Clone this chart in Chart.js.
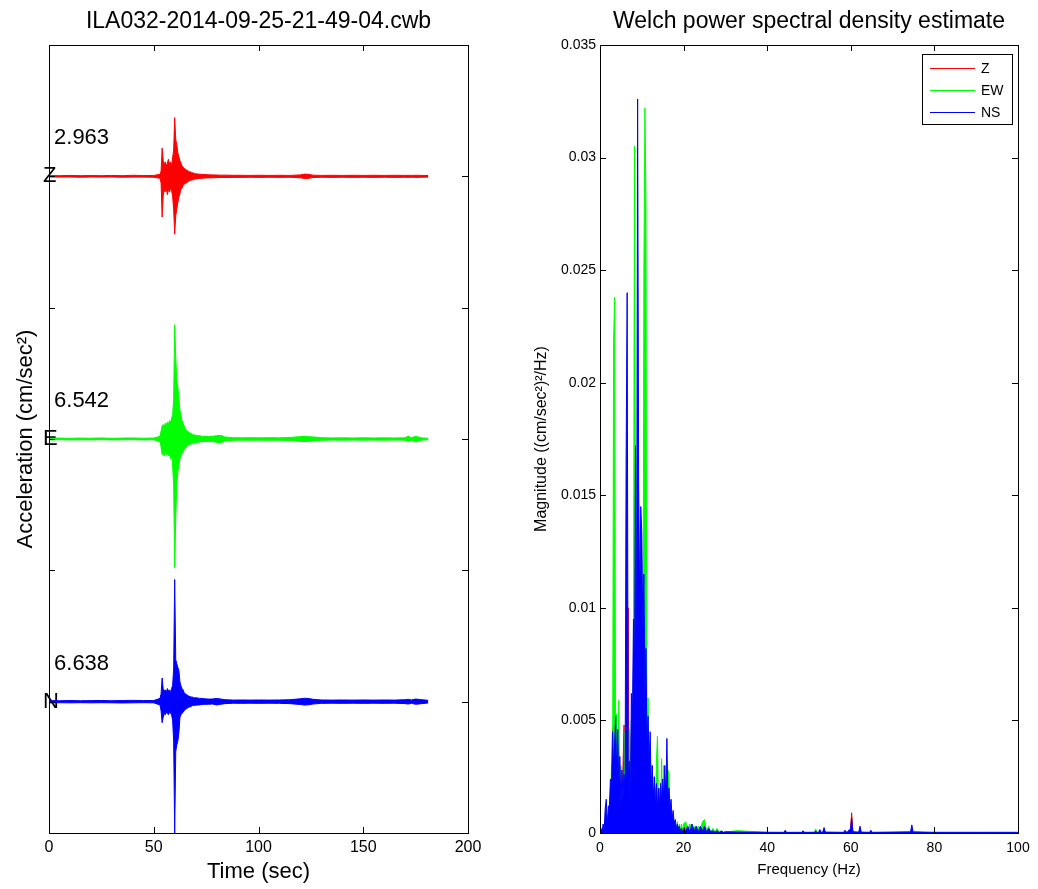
<!DOCTYPE html>
<html>
<head>
<meta charset="utf-8">
<script src="https://cdn.jsdelivr.net/npm/chart.js@4.4.1/dist/chart.umd.min.js"></script>
<style>
  html, body { margin: 0; padding: 0; background: #fff; }
  #wrap { position: relative; width: 1038px; height: 889px; }
  #wrap canvas { position: absolute; top: 0; }
  #seis { left: 0; }
  #psd { left: 519px; }
</style>
</head>
<body>
<div id="wrap">
  <canvas id="seis" width="519" height="889"></canvas>
  <canvas id="psd" width="519" height="889"></canvas>
</div>
<script>
// ---- left panel: three acceleration traces, each around its own baseline
var traceNames = ['Z', 'E', 'N'];
var traceOffsets = [5, 3, 1];
var traceColors = ['#ff0000', '#00ff00', '#0000ff'];
var peakLabels = ['2.963', '6.542', '6.638'];
var timeTickLabels = ['0', '50', '100', '150', '200'];

// sample times (sec); each trace gives the upper / lower swing at that time
var traceTimes = [0, 5, 10, 15, 20, 25, 30, 35, 40, 45, 50, 53,
  53.5, 54, 54.5, 55, 55.5, 56, 56.5, 57, 57.5, 58, 58.5, 59, 59.5, 60, 60.5, 61, 61.5, 62,
  62.5, 63, 63.5, 64, 64.5, 65, 65.5, 66, 66.5, 67, 67.5, 68, 68.5, 69, 69.5, 70,
  71, 72, 73, 74, 76, 78, 80, 82, 84, 88, 92, 96, 100, 105, 110, 115, 120, 122, 124, 126,
  130, 135, 140, 145, 150, 155, 160, 165, 170, 171.5, 173, 175, 178, 181];

var zUpper = [0.006, 0.005, 0.007, 0.005, 0.006, 0.005, 0.007, 0.005, 0.008, 0.006, 0.007, 0.015,
  0.04, 0.215, 0.12, 0.09, 0.11, 0.08, 0.10, 0.13, 0.09, 0.11, 0.08, 0.14, 0.20, 0.447, 0.28, 0.24, 0.18, 0.15,
  0.12, 0.10, 0.08, 0.07, 0.06, 0.055, 0.05, 0.045, 0.04, 0.035, 0.035, 0.03, 0.028, 0.025, 0.022, 0.02,
  0.018, 0.016, 0.015, 0.014, 0.012, 0.011, 0.01, 0.009, 0.009, 0.008, 0.008, 0.007, 0.008, 0.007, 0.008, 0.007, 0.011, 0.017, 0.015, 0.009,
  0.007, 0.008, 0.007, 0.008, 0.007, 0.008, 0.007, 0.008, 0.007, 0.008, 0.007, 0.008, 0.007, 0.006];
var zLower = [-0.005, -0.006, -0.005, -0.007, -0.005, -0.006, -0.005, -0.007, -0.006, -0.006, -0.007, -0.015,
  -0.05, -0.31, -0.15, -0.10, -0.12, -0.09, -0.14, -0.10, -0.12, -0.09, -0.11, -0.15, -0.25, -0.44, -0.30, -0.25, -0.20, -0.16,
  -0.13, -0.10, -0.09, -0.07, -0.06, -0.055, -0.05, -0.045, -0.04, -0.035, -0.03, -0.03, -0.028, -0.025, -0.022, -0.02,
  -0.018, -0.016, -0.015, -0.013, -0.012, -0.011, -0.01, -0.009, -0.009, -0.008, -0.008, -0.007, -0.008, -0.007, -0.008, -0.007, -0.011, -0.017, -0.015, -0.009,
  -0.007, -0.008, -0.007, -0.008, -0.007, -0.008, -0.007, -0.008, -0.007, -0.008, -0.007, -0.008, -0.007, -0.006];

var eUpper = [0.006, 0.007, 0.005, 0.007, 0.006, 0.008, 0.005, 0.007, 0.008, 0.006, 0.007, 0.02,
  0.06, 0.10, 0.11, 0.09, 0.12, 0.10, 0.13, 0.11, 0.14, 0.12, 0.16, 0.18, 0.30, 0.87, 0.62, 0.45, 0.40, 0.30,
  0.22, 0.18, 0.14, 0.12, 0.10, 0.08, 0.07, 0.06, 0.055, 0.05, 0.045, 0.04, 0.035, 0.035, 0.03, 0.03,
  0.025, 0.025, 0.02, 0.02, 0.018, 0.02, 0.025, 0.028, 0.015, 0.01, 0.009, 0.01, 0.009, 0.01, 0.009, 0.012, 0.018, 0.02, 0.018, 0.016,
  0.01, 0.008, 0.009, 0.008, 0.009, 0.008, 0.009, 0.008, 0.009, 0.022, 0.009, 0.02, 0.008, 0.006];
var eLower = [-0.007, -0.005, -0.007, -0.006, -0.007, -0.005, -0.007, -0.006, -0.005, -0.007, -0.006, -0.02,
  -0.06, -0.12, -0.10, -0.13, -0.09, -0.12, -0.10, -0.13, -0.11, -0.15, -0.12, -0.20, -0.35, -0.98, -0.60, -0.35, -0.25, -0.20,
  -0.15, -0.13, -0.11, -0.10, -0.08, -0.07, -0.06, -0.05, -0.045, -0.045, -0.04, -0.035, -0.035, -0.03, -0.03, -0.028,
  -0.025, -0.022, -0.02, -0.02, -0.018, -0.02, -0.025, -0.028, -0.015, -0.01, -0.009, -0.01, -0.009, -0.01, -0.009, -0.012, -0.018, -0.02, -0.018, -0.016,
  -0.01, -0.008, -0.009, -0.008, -0.009, -0.008, -0.009, -0.008, -0.009, -0.018, -0.009, -0.022, -0.008, -0.006];

var nUpper = [0.008, 0.007, 0.009, 0.007, 0.008, 0.009, 0.007, 0.009, 0.01, 0.008, 0.009, 0.025,
  0.06, 0.18, 0.10, 0.08, 0.09, 0.07, 0.10, 0.08, 0.09, 0.07, 0.10, 0.12, 0.25, 0.93, 0.32, 0.29, 0.26, 0.24,
  0.15, 0.12, 0.10, 0.09, 0.07, 0.06, 0.055, 0.05, 0.045, 0.04, 0.04, 0.035, 0.035, 0.03, 0.03, 0.03,
  0.028, 0.025, 0.025, 0.022, 0.02, 0.02, 0.025, 0.02, 0.015, 0.012, 0.013, 0.012, 0.013, 0.012, 0.013, 0.015, 0.022, 0.026, 0.024, 0.018,
  0.013, 0.012, 0.013, 0.012, 0.013, 0.012, 0.013, 0.012, 0.015, 0.018, 0.013, 0.02, 0.015, 0.01];
var nLower = [-0.009, -0.008, -0.009, -0.008, -0.009, -0.008, -0.009, -0.01, -0.009, -0.008, -0.009, -0.025,
  -0.07, -0.16, -0.12, -0.09, -0.10, -0.08, -0.09, -0.10, -0.08, -0.09, -0.10, -0.14, -0.30, -1.0, -0.38, -0.33, -0.30, -0.24,
  -0.12, -0.10, -0.09, -0.08, -0.07, -0.06, -0.055, -0.05, -0.045, -0.04, -0.04, -0.035, -0.03, -0.03, -0.03, -0.028,
  -0.025, -0.025, -0.022, -0.02, -0.02, -0.018, -0.025, -0.02, -0.015, -0.012, -0.013, -0.012, -0.013, -0.012, -0.013, -0.015, -0.022, -0.026, -0.024, -0.018,
  -0.013, -0.012, -0.013, -0.012, -0.013, -0.012, -0.013, -0.012, -0.015, -0.018, -0.013, -0.02, -0.015, -0.01];

// ---- right panel: Welch PSD of the three components
var psdLabels = ['Z', 'EW', 'NS'];
var psdColors = ['#ff0000', '#00ff00', '#0000ff'];
var freqTickLabels = ['0', '20', '40', '60', '80', '100'];
var psdTickLabels = ['0', '0.005', '0.01', '0.015', '0.02', '0.025', '0.03', '0.035'];

var freqHz = [
  0, 0.25, 0.5, 0.75, 1, 1.25, 1.5, 1.75, 2, 2.25, 2.5, 2.75, 3, 3.25, 3.5, 3.75, 4, 4.25, 4.5, 4.75,
  5, 5.25, 5.5, 5.75, 6, 6.25, 6.5, 6.75, 7, 7.25, 7.5, 7.75, 8, 8.25, 8.5, 8.75, 9, 9.25, 9.5, 9.75,
  10, 10.25, 10.5, 10.75, 11, 11.25, 11.5, 11.75, 12, 12.25, 12.5, 12.75, 13, 13.25, 13.5, 13.75, 14, 14.25, 14.5, 14.75,
  15, 15.25, 15.5, 15.75, 16, 16.25, 16.5, 16.75, 17, 17.25, 17.5, 17.75, 18, 18.25, 18.5, 18.75, 19, 19.25, 19.5, 19.75,
  20, 20.5, 21, 21.5, 22, 22.5, 23, 23.5, 24, 24.5, 25, 25.5, 26, 26.5, 27, 27.5, 28, 28.5, 29, 29.5, 30,
  33, 40, 44, 44.3, 44.6, 48.3, 48.6, 48.9, 51.3, 51.6, 51.9, 52.3, 52.6, 52.9, 53.3, 53.6, 53.9,
  58.3, 58.6, 58.9, 59.3, 59.6, 59.9, 60.2, 60.5, 61.9, 62.2, 62.5, 64.5, 64.8, 65.1, 74.3, 74.6, 74.9, 80, 90, 100];

var psdZ = [
  0, 0.00005, 0.0001, 0.00003, 0.0002, 0.00005, 0.0004, 0.0001, 0.0005, 0.0001, 0.0012, 0.0002, 0.0047, 0.0003, 0.0015, 0.0002, 0.0008, 0.0001, 0.0006, 0.0001,
  0.0010, 0.0002, 0.0030, 0.0048, 0.0002, 0.0035, 0.0003, 0.0100, 0.0002, 0.0025, 0.0044, 0.0003, 0.0020, 0.0004, 0.0050, 0.0066, 0.0003, 0.0045, 0.0004, 0.0035,
  0.0003, 0.0030, 0.0004, 0.0043, 0.0002, 0.0015, 0.0003, 0.0012, 0.0002, 0.0010, 0.0001, 0.0012, 0.0002, 0.0020, 0.0001, 0.0006, 0.0001, 0.0005, 0.00005, 0.0004,
  0.00005, 0.0004, 0.00005, 0.0002, 0.00005, 0.0003, 0.00005, 0.0002, 0.00003, 0.0001, 0.00003, 0.0001, 0.00003, 0.0001, 0.00002, 0.0001, 0.00002, 0.00005, 0.00002, 0.00005,
  0.00002, 0.00002, 0.00006, 0.00002, 0.00005, 0.00002, 0.00004, 0.00002, 0.00004, 0.00002, 0.00003, 0.00002, 0.00003, 0.00002, 0.00002, 0.00002, 0.00002, 0.00002, 0.00002, 0.00002, 0.00002,
  0.00002, 0.00002, 0.00002, 0.00002, 0.00002, 0.00002, 0.00002, 0.00002, 0.00002, 0.00002, 0.00002, 0.00002, 0.00002, 0.00002, 0.00002, 0.00002, 0.00002,
  0.00002, 0.00002, 0.00002, 0.00002, 0.00002, 0.00005, 0.0009, 0.00004, 0.00002, 0.00002, 0.00002, 0.00002, 0.00002, 0.00002, 0.00002, 0.00008, 0.00002, 0.00002, 0.00002, 0.00002];

var psdEW = [
  0.00001, 0.0001, 0.00003, 0.0002, 0.00005, 0.0006, 0.0001, 0.0008, 0.0002, 0.0010, 0.0003, 0.0031, 0.0005, 0.0218, 0.0238, 0.0010, 0.0053, 0.0008, 0.0059, 0.0006,
  0.0030, 0.0004, 0.0020, 0.0003, 0.0045, 0.0005, 0.0030, 0.0004, 0.0046, 0.0003, 0.0050, 0.0005, 0.0070, 0.0305, 0.0136, 0.0008, 0.0090, 0.0012, 0.0100, 0.0010,
  0.0090, 0.0015, 0.0249, 0.0322, 0.0278, 0.0012, 0.0060, 0.0008, 0.0040, 0.0006, 0.0030, 0.0004, 0.0022, 0.0005, 0.0032, 0.0043, 0.0006, 0.0020, 0.0005, 0.0033,
  0.0006, 0.0030, 0.0004, 0.0018, 0.0005, 0.0028, 0.0026, 0.0004, 0.0010, 0.0003, 0.0006, 0.0002, 0.0004, 0.0001, 0.0005, 0.0001, 0.0004, 0.0001, 0.0004, 0.0001,
  0.0004, 0.0005, 0.0001, 0.0004, 0.0001, 0.0003, 0.00005, 0.0003, 0.0001, 0.0005, 0.0006, 0.0001, 0.0003, 0.00005, 0.0002, 0.00005, 0.0002, 0.00003, 0.0001, 0.00003, 0.00005,
  0.0001, 0.00003, 0.00002, 0.00004, 0.00002, 0.00002, 0.00004, 0.00002, 0.00003, 0.00018, 0.00003, 0.00002, 0.00005, 0.00002, 0.00002, 0.00006, 0.00002,
  0.00002, 0.00004, 0.00002, 0.00002, 0.00005, 0.00003, 0.0002, 0.00002, 0.00002, 0.00008, 0.00002, 0.00002, 0.00004, 0.00002, 0.00002, 0.0001, 0.00002, 0.00002, 0.00002, 0.00002];

var psdNS = [
  0.00002, 0.0002, 0.00005, 0.0004, 0.0001, 0.0011, 0.0015, 0.0003, 0.0012, 0.0012, 0.0024, 0.0020, 0.0045, 0.0030, 0.0040, 0.0052, 0.0025, 0.0046, 0.0020, 0.0034,
  0.0012, 0.0028, 0.0015, 0.0026, 0.0020, 0.0168, 0.0240, 0.0020, 0.0032, 0.0010, 0.0062, 0.0050, 0.0095, 0.0070, 0.0172, 0.0090, 0.0326, 0.0156, 0.0100, 0.0145,
  0.0133, 0.0090, 0.0115, 0.0060, 0.0082, 0.0040, 0.0052, 0.0030, 0.0045, 0.0020, 0.0030, 0.0015, 0.0025, 0.0012, 0.0022, 0.0010, 0.0020, 0.0012, 0.0022, 0.0014,
  0.0024, 0.0015, 0.0030, 0.0016, 0.0042, 0.0014, 0.0020, 0.0010, 0.0015, 0.0006, 0.0010, 0.0004, 0.0006, 0.0002, 0.0004, 0.0002, 0.0003, 0.0001, 0.0002, 0.00005,
  0.0002, 0.0001, 0.0003, 0.00005, 0.0004, 0.0001, 0.0003, 0.00005, 0.0003, 0.0001, 0.0003, 0.00005, 0.0002, 0.00005, 0.0001, 0.00003, 0.0001, 0.00003, 0.00008, 0.00003, 0.00005,
  0.00004, 0.00003, 0.00003, 0.00012, 0.00003, 0.00003, 0.0001, 0.00003, 0.00003, 0.00008, 0.00003, 0.00003, 0.00015, 0.00003, 0.00004, 0.00024, 0.00004,
  0.00003, 0.00012, 0.00004, 0.00005, 0.00015, 0.0001, 0.00067, 0.00005, 0.00004, 0.0003, 0.00004, 0.00003, 0.00012, 0.00003, 0.00005, 0.00036, 0.00005, 0.00003, 0.00003, 0.00003];

var FONT = '"Liberation Sans", Arial, Helvetica, sans-serif';
Chart.defaults.font.family = FONT;
Chart.defaults.color = '#000';

// MATLAB style box with inward ticks on all four sides
var matlabAxes = {
  id: 'matlabAxes',
  afterDatasetsDraw: function (chart) {
    var ctx = chart.ctx, a = chart.chartArea;
    var xs = chart.scales.x, ys = chart.scales.y, len = 6;
    ctx.save();
    ctx.strokeStyle = '#000';
    ctx.lineWidth = 1;
    ctx.beginPath();
    xs.ticks.forEach(function (t) {
      var px = Math.round(xs.getPixelForValue(t.value)) + 0.5;
      ctx.moveTo(px, a.bottom); ctx.lineTo(px, a.bottom - len);
      ctx.moveTo(px, a.top); ctx.lineTo(px, a.top + len);
    });
    ys.ticks.forEach(function (t) {
      var py = Math.round(ys.getPixelForValue(t.value)) + 0.5;
      ctx.moveTo(a.left, py); ctx.lineTo(a.left + len, py);
      ctx.moveTo(a.right, py); ctx.lineTo(a.right - len, py);
    });
    ctx.stroke();
    ctx.strokeRect(Math.round(a.left) + 0.5, Math.round(a.top) + 0.5,
      Math.round(a.right - a.left), Math.round(a.bottom - a.top));
    ctx.restore();
  }
};

var peakText = {
  id: 'peakText',
  afterDatasetsDraw: function (chart) {
    var ctx = chart.ctx, xs = chart.scales.x, ys = chart.scales.y;
    ctx.save();
    ctx.font = '22px ' + FONT;
    ctx.fillStyle = '#000';
    ctx.textAlign = 'left';
    ctx.textBaseline = 'middle';
    peakLabels.forEach(function (txt, i) {
      ctx.fillText(txt, xs.getPixelForValue(2.4), ys.getPixelForValue(traceOffsets[i] + 0.29));
    });
    ctx.restore();
  }
};

var boxLegend = {
  id: 'boxLegend',
  afterDraw: function (chart) {
    var ctx = chart.ctx, a = chart.chartArea;
    var w = 90, h = 70;
    var x0 = Math.round(a.right - 6 - w), y0 = Math.round(a.top + 9);
    ctx.save();
    ctx.fillStyle = '#fff';
    ctx.fillRect(x0, y0, w, h);
    ctx.strokeStyle = '#000';
    ctx.lineWidth = 1;
    ctx.strokeRect(x0 + 0.5, y0 + 0.5, w, h);
    ctx.font = '14px ' + FONT;
    ctx.textBaseline = 'middle';
    ctx.textAlign = 'left';
    chart.data.datasets.forEach(function (ds, i) {
      var y = y0 + 14 + i * 22 + 0.5;
      ctx.strokeStyle = ds.borderColor;
      ctx.beginPath();
      ctx.moveTo(x0 + 8, y);
      ctx.lineTo(x0 + 53, y);
      ctx.stroke();
      ctx.fillStyle = '#000';
      ctx.fillText(ds.label, x0 + 59, y + 1);
    });
    ctx.restore();
  }
};

function shifted(values, offset) {
  return traceTimes.map(function (t, k) { return { x: t, y: offset + values[k] }; });
}

var traceUpper = [zUpper, eUpper, nUpper];
var traceLower = [zLower, eLower, nLower];
var traceSets = [];
traceNames.forEach(function (name, i) {
  // upper swing, filled down to the lower swing drawn right after it
  traceSets.push({
    label: name,
    data: shifted(traceUpper[i], traceOffsets[i]),
    borderColor: traceColors[i],
    backgroundColor: traceColors[i],
    fill: '+1'
  });
  traceSets.push({
    label: name + ' low',
    data: shifted(traceLower[i], traceOffsets[i]),
    borderColor: traceColors[i],
    fill: false
  });
});

new Chart(document.getElementById('seis'), {
  type: 'line',
  data: { datasets: traceSets },
  options: {
    responsive: false,
    animation: false,
    events: [],
    elements: {
      point: { radius: 0 },
      line: { borderWidth: 1, tension: 0, borderJoinStyle: 'bevel' }
    },
    layout: { padding: { left: 0, right: 51, top: 0, bottom: 0 } },
    plugins: {
      legend: { display: false },
      tooltip: { enabled: false },
      title: {
        display: true,
        fullSize: false,
        text: 'ILA032-2014-09-25-21-49-04.cwb',
        color: '#000',
        font: { size: 23, weight: 'normal' },
        padding: { top: 8, bottom: 9.4 }
      }
    },
    scales: {
      x: {
        type: 'linear', min: 0, max: 200,
        grid: { display: false, drawTicks: false },
        border: { display: false },
        ticks: {
          stepSize: 50, padding: 5, maxRotation: 0, autoSkip: false,
          color: '#000', font: { size: 16 },
          callback: function (v, i) { return timeTickLabels[i]; }
        },
        title: { display: true, text: 'Time (sec)', color: '#000', font: { size: 22 }, padding: { top: 0, bottom: 4 } },
        afterFit: function (s) { s.height = 56; }
      },
      y: {
        type: 'linear', min: 0, max: 6,
        grid: { display: false, drawTicks: false },
        border: { display: false },
        ticks: {
          stepSize: 1, mirror: true, padding: -6, autoSkip: false,
          color: '#000', font: { size: 22 },
          callback: function (v) {
            var k = traceOffsets.indexOf(v);
            return k >= 0 ? traceNames[k] : '';
          }
        },
        title: { display: true, text: 'Acceleration (cm/sec²)', color: '#000', font: { size: 22 }, padding: { top: 13, bottom: 0 } },
        afterFit: function (s) { s.width = 49; }
      }
    }
  },
  plugins: [matlabAxes, peakText]
});

var psdSeries = [psdZ, psdEW, psdNS];

new Chart(document.getElementById('psd'), {
  type: 'line',
  data: {
    datasets: psdLabels.map(function (name, i) {
      return {
        label: name,
        data: freqHz.map(function (f, k) { return { x: f, y: psdSeries[i][k] }; }),
        borderColor: psdColors[i],
        backgroundColor: psdColors[i],
        fill: 'origin',
        order: psdLabels.length - 1 - i
      };
    })
  },
  options: {
    responsive: false,
    animation: false,
    events: [],
    elements: {
      point: { radius: 0 },
      line: { borderWidth: 1, tension: 0, borderJoinStyle: 'bevel' }
    },
    layout: { padding: { left: 0, right: 20, top: 0, bottom: 0 } },
    plugins: {
      legend: { display: false },
      tooltip: { enabled: false },
      title: {
        display: true,
        fullSize: false,
        text: 'Welch power spectral density estimate',
        color: '#000',
        font: { size: 23, weight: 'normal' },
        padding: { top: 8, bottom: 9.4 }
      }
    },
    scales: {
      x: {
        type: 'linear', min: 0, max: 100,
        grid: { display: false, drawTicks: false },
        border: { display: false },
        ticks: {
          stepSize: 20, padding: 6.5, maxRotation: 0, autoSkip: false,
          color: '#000', font: { size: 14 },
          callback: function (v, i) { return freqTickLabels[i]; }
        },
        title: { display: true, text: 'Frequency (Hz)', color: '#000', font: { size: 15 }, padding: { top: 0, bottom: 10 } },
        afterFit: function (s) { s.height = 56; }
      },
      y: {
        type: 'linear', min: 0, max: 0.035,
        grid: { display: false, drawTicks: false },
        border: { display: false },
        ticks: {
          stepSize: 0.005, padding: 4, autoSkip: false,
          color: '#000', font: { size: 14 },
          callback: function (v, i) { return psdTickLabels[i]; }
        },
        title: { display: true, text: 'Magnitude ((cm/sec²)²/Hz)', color: '#000', font: { size: 16 }, padding: { top: 13, bottom: 0 } },
        afterFit: function (s) { s.width = 81; }
      }
    }
  },
  plugins: [matlabAxes, boxLegend]
});
</script>
</body>
</html>
